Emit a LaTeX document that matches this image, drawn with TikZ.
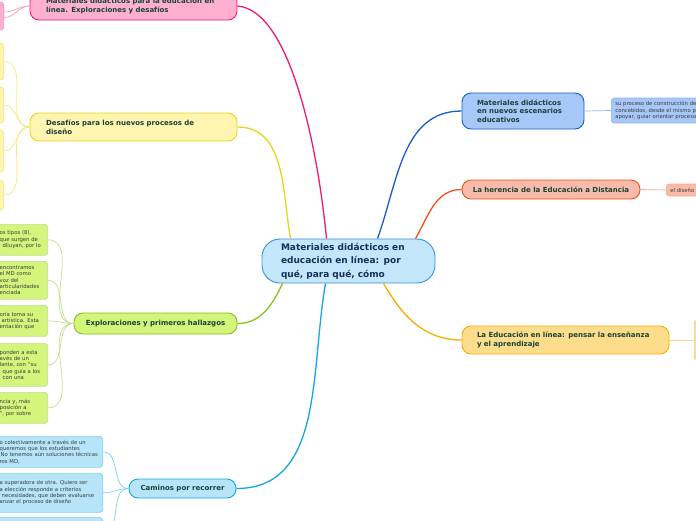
\documentclass[tikz,border=0pt]{standalone}
\usepackage{fontspec}
\setmainfont{DejaVu Sans}
\usetikzlibrary{calc}
\definecolor{rootfill}{HTML}{C4E6FB}\definecolor{rootline}{HTML}{3D8FD6}\definecolor{rootink}{HTML}{15305A}
\definecolor{topicink}{HTML}{1A4236}\definecolor{leafink}{HTML}{3A3A3A}
\definecolor{pinkfill}{HTML}{FFB0D0}\definecolor{pinkline}{HTML}{EC1A78}\definecolor{pinktwig}{HTML}{F59AC0}
\definecolor{yelfill}{HTML}{FFF5B0}\definecolor{yelline}{HTML}{E6D41E}\definecolor{yeltwig}{HTML}{F5E67A}
\definecolor{grnfill}{HTML}{D3F57C}\definecolor{grnline}{HTML}{8CBE1E}\definecolor{grntwig}{HTML}{C2E08A}
\definecolor{cyafill}{HTML}{B6E5FA}\definecolor{cyaline}{HTML}{14A6E2}\definecolor{cyatwig}{HTML}{7FD0F2}
\definecolor{blufill}{HTML}{A6C7F7}\definecolor{bluline}{HTML}{1A5CCC}\definecolor{blutwig}{HTML}{8FB5F0}
\definecolor{orafill}{HTML}{F8BBA9}\definecolor{oraline}{HTML}{F0501E}\definecolor{oratwig}{HTML}{F7A78C}
\definecolor{golfill}{HTML}{FDDC8C}\definecolor{golline}{HTML}{F5AE00}\definecolor{goltwig}{HTML}{FBD585}

\begin{document}
\begin{tikzpicture}[x=1pt,y=1pt,
    topic/.style={draw, rounded corners=9pt, line width=0.9pt, text=topicink, font=\fontsize{7}{8.6}\selectfont\bfseries, align=left, inner ysep=0pt},
    leaf/.style={draw, rounded corners=3pt, line width=0.7pt, text=leafink, font=\fontsize{5.3}{6.4}\selectfont, align=left, inner ysep=2pt},
    branch/.style={line width=1.3pt},
    twig/.style={line width=0.7pt}]
    \useasboundingbox (0,0) rectangle (696,-520);
    % centre
    \node[draw=rootline, fill=rootfill, line width=0.9pt, rounded corners=18pt, text=rootink, font=\fontsize{9}{13.5}\selectfont\bfseries, align=left, text width=135pt, inner xsep=19pt, minimum height=44pt] (root) at (348.5,-261) {Materiales didácticos en\\educación en línea: por\\qué, para qué, cómo};
    % main topics
    \node[topic, fill=pinkfill, draw=pinkline, text width=175pt, inner xsep=16pt, minimum height=28pt] (pink) at (133.5,-6) {Materiales didácticos para la educación en\\línea. Exploraciones y desafíos};
    \node[topic, fill=yelfill, draw=yelline, text width=175pt, inner xsep=16pt, minimum height=28pt] (yel) at (133.5,-127) {Desafíos para los nuevos procesos de\\diseño};
    \node[topic, fill=grnfill, draw=grnline, minimum width=163pt, minimum height=21pt, align=center] (grn) at (155.5,-323.5) {Exploraciones y primeros hallazgos};
    \node[topic, fill=cyafill, draw=cyaline, minimum width=107pt, minimum height=19pt, align=center] (cya) at (182.5,-488.5) {Caminos por recorrer};
    \node[topic, fill=blufill, draw=bluline, text width=92pt, inner xsep=15pt, minimum height=36pt] (blu) at (523,-111) {Materiales didácticos\\en nuevos escenarios\\educativos};
    \node[topic, fill=orafill, draw=oraline, minimum width=178pt, minimum height=19pt, align=center] (ora) at (551,-189.5) {La herencia de la Educación a Distancia};
    \node[topic, fill=golfill, draw=golline, text width=177pt, inner xsep=15pt, minimum height=28pt] (gol) at (565.5,-340) {La Educación en línea: pensar la enseñanza\\y el aprendizaje};
    % leaves, right
    \node[leaf, fill=blufill, draw=blutwig, anchor=west, text width=100pt, inner xsep=4pt, minimum height=25pt] (blu1) at (611,-110.5) {su proceso de construcción de\\concebidos, desde el mismo p\\apoyar, guiar orientar proceso};
    \node[leaf, fill=orafill, draw=oratwig, anchor=west, text width=40pt, inner xsep=4pt, minimum height=12pt] (ora1) at (666,-190) {el diseño};
    \node[leaf, fill=golfill, draw=goltwig, anchor=west, minimum width=30pt, minimum height=40pt] (gol1) at (694,-340) {};
    % leaves, left
    \node[leaf, fill=pinkfill, draw=pinktwig, anchor=east, minimum width=30pt, minimum height=20pt] (pink1) at (4,-12) {};
    \node[leaf, fill=pinkfill, draw=pinktwig, anchor=east, minimum width=30pt, minimum height=25pt] (pink2) at (4,-17.5) {};
    \node[leaf, fill=yelfill, draw=yeltwig, anchor=east, minimum width=30pt, minimum height=37pt] (yel1) at (4,-61.5) {};
    \node[leaf, fill=yelfill, draw=yeltwig, anchor=east, minimum width=30pt, minimum height=36pt] (yel2) at (4,-105) {};
    \node[leaf, fill=yelfill, draw=yeltwig, anchor=east, minimum width=30pt, minimum height=42pt] (yel3) at (4,-151) {};
    \node[leaf, fill=yelfill, draw=yeltwig, anchor=east, minimum width=30pt, minimum height=30pt] (yel4) at (4,-195) {};
    \node[leaf, fill=grnfill, draw=grntwig, anchor=north east, text width=45pt, inner xsep=3pt, minimum height=31pt] (grn1) at (48,-224) {os tipos (8),\\que surgen de\\\hspace*{3pt}diluyan, por lo};
    \node[leaf, fill=grnfill, draw=grntwig, anchor=north east, text width=45pt, inner xsep=3pt, minimum height=38pt] (grn2) at (48,-261) {encontramos\\el MD como\\voz del\\articularidades\\enciada};
    \node[leaf, fill=grnfill, draw=grntwig, anchor=north east, text width=45pt, inner xsep=3pt, minimum height=31pt] (grn3) at (48,-305) {oría toma su\\\hspace*{2pt}artística. Esta\\entación que};
    \node[leaf, fill=grnfill, draw=grntwig, anchor=north east, text width=45pt, inner xsep=3pt, minimum height=43pt] (grn4) at (48,-343) {ponden a esta\\avés de un\\lante, con “su\\\hspace*{3pt}que guía a los\\\hspace*{3pt}con una};
    \node[leaf, fill=grnfill, draw=grntwig, anchor=north east, text width=45pt, inner xsep=3pt, minimum height=31pt] (grn5) at (48,-392) {ncia y, más\\posición a\\”, por sobre};
    \node[leaf, fill=cyafill, draw=cyatwig, anchor=north east, text width=100pt, inner xsep=3pt, minimum height=31pt] (cya1) at (103,-436) {o colectivamente a través de un\\queremos que los estudiantes\\\mbox{\hspace*{1pt}No tenemos aún soluciones técnicas}\\ros MD,};
    \node[leaf, fill=cyafill, draw=cyatwig, anchor=north east, text width=100pt, inner xsep=3pt, minimum height=39pt] (cya2) at (103,-473) {a superadora de otra. Quiero ser\\a elección responde a criterios\\\mbox{\hspace*{2pt}necesidades, que deben evaluarse}\\anzar el proceso de diseño};
    \node[leaf, fill=cyafill, draw=cyatwig, anchor=north east, text width=100pt, inner xsep=3pt, minimum height=30pt] (cya3) at (103,-517) {};
    % branches
    \draw[branch, pinkline] ([xshift=-22pt]root.north) .. controls +(-8.5,89) and +(53,-4) .. (pink.east);
    \draw[branch, yelline] ([xshift=-58pt]root.north) to[out=100,in=0] (yel.east);
    \draw[branch, bluline] ([xshift=29pt]root.north) to[out=70,in=180] (blu.west);
    \draw[branch, oraline] ([xshift=67pt]root.north) to[out=60,in=180] (ora.west);
    \draw[branch, golline] ([xshift=35pt]root.south) to[out=-60,in=180] (gol.west);
    \draw[branch, grnline] ([xshift=-66pt]root.south) to[out=-115,in=0] (grn.east);
    \draw[branch, cyaline] ([xshift=-23pt]root.south) to[out=-100,in=0] (cya.east);
    % twigs
    \foreach \n in {1,2} \draw[twig, pinktwig] (pink.west) to[out=180,in=0] (pink\n.east);
    \foreach \n in {1,...,4} \draw[twig, yeltwig] (yel.west) to[out=180,in=0] (yel\n.east);
    \foreach \n in {1,...,5} \draw[twig, grntwig] (grn.west) to[out=180,in=0] (grn\n.east);
    \foreach \n in {1,...,3} \draw[twig, cyatwig] (cya.west) to[out=180,in=0] (cya\n.east);
    \draw[twig, blutwig] (blu.east) -- (blu1.west);
    \draw[twig, oratwig] (ora.east) -- (ora1.west);
    \draw[twig, goltwig] (gol.east) -- (gol1.west);
\end{tikzpicture}
\end{document}
